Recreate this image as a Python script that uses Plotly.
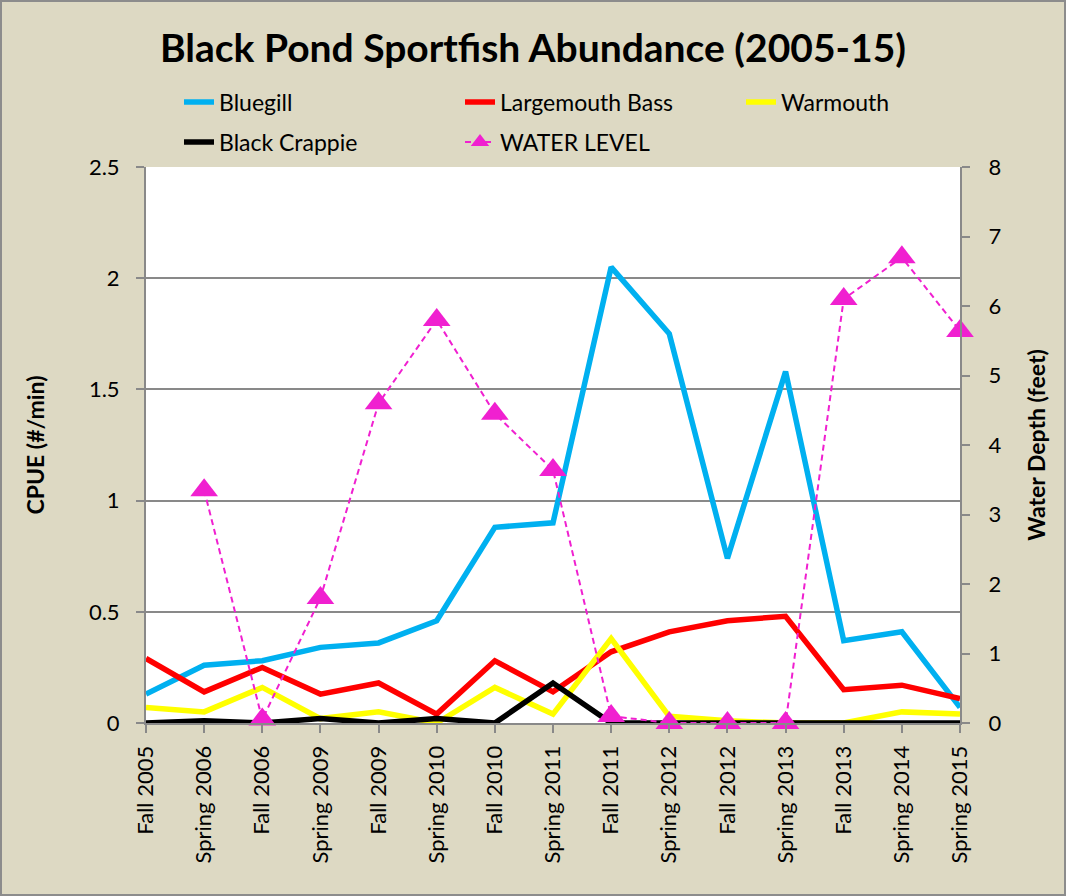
import plotly.graph_objects as go

categories = ["Fall 2005", "Spring 2006", "Fall 2006", "Spring 2009", "Fall 2009",
              "Spring 2010", "Fall 2010", "Spring 2011", "Fall 2011", "Spring 2012",
              "Fall 2012", "Spring 2013", "Fall 2013", "Spring 2014", "Spring 2015"]
bluegill = [0.13, 0.26, 0.28, 0.34, 0.36, 0.46, 0.88, 0.90, 2.05, 1.75, 0.74, 1.58, 0.37, 0.41, 0.07]
largemouth = [0.29, 0.14, 0.25, 0.13, 0.18, 0.04, 0.28, 0.14, 0.32, 0.41, 0.46, 0.48, 0.15, 0.17, 0.11]
warmouth = [0.07, 0.05, 0.16, 0.02, 0.05, 0.00, 0.16, 0.04, 0.38, 0.03, 0.01, 0.00, 0.00, 0.05, 0.04]
crappie = [0.00, 0.01, 0.00, 0.02, 0.00, 0.02, 0.00, 0.18, 0.00, 0.00, 0.00, 0.00, 0.00, 0.00, 0.00]
water_level = [None, 3.35, 0.05, 1.80, 4.60, 5.80, 4.45, 3.64, 0.10, 0.0, 0.0, 0.0, 6.10, 6.70, 5.64]

BG = "#DDD9C3"
GRID = "#898989"
FONT = "Lato"

L, R, T, B = 146, 106, 167, 173
W, H = 1066, 896
pw, ph = W - L - R, H - T - B

def px(p):
    return (p - L) / pw

def py(p):
    return (H - B - p) / ph

fig = go.Figure()
fig.add_trace(go.Scatter(x=categories, y=bluegill, name="Bluegill", mode="lines",
                         line=dict(color="#00B0F0", width=5.5), legend="legend", cliponaxis=False))
fig.add_trace(go.Scatter(x=categories, y=largemouth, name="Largemouth Bass", mode="lines",
                         line=dict(color="#FF0000", width=5.5), legend="legend2", cliponaxis=False))
fig.add_trace(go.Scatter(x=categories, y=warmouth, name="Warmouth", mode="lines",
                         line=dict(color="#FFFF00", width=5.5), legend="legend3", cliponaxis=False))
fig.add_trace(go.Scatter(x=categories, y=crappie, name="Black Crappie", mode="lines",
                         line=dict(color="#000000", width=5.5), legend="legend4", cliponaxis=False))
fig.add_trace(go.Scatter(x=categories, y=water_level, name="WATER LEVEL", mode="lines+markers",
                         yaxis="y2", line=dict(color="#F020D0", width=2, dash="6px,4px"),
                         marker=dict(symbol="triangle-up", size=24, color="#F020D0"),
                         legend="legend5", cliponaxis=False))

def leg(xp, yp):
    return dict(orientation="v", x=px(xp), xanchor="left", y=py(yp), yanchor="middle",
                bgcolor="rgba(0,0,0,0)", font=dict(family=FONT, size=23, color="black"))

fig.update_layout(
    width=W, height=H,
    margin=dict(l=L, r=R, t=T, b=B),
    paper_bgcolor=BG, plot_bgcolor="white",
    font=dict(family=FONT, size=22, color="black"),
    title=dict(text="<b>Black Pond Sportfish Abundance (2005-15)</b>",
               x=0.5, xanchor="center", y=1 - 48 / H, yanchor="middle",
               font=dict(family=FONT, size=39, color="black")),
    showlegend=True,
    legend=leg(179, 102),
    legend2=leg(460, 102),
    legend3=leg(741, 102),
    legend4=leg(179, 142),
    legend5=leg(460, 142),
    xaxis=dict(type="category", range=[0, len(categories) - 1], tickangle=-90,
               ticks="outside", ticklen=8, tickcolor=GRID, tickwidth=2,
               showline=True, linecolor=GRID, linewidth=2, showgrid=False,
               tickfont=dict(size=22), ticklabelstandoff=4),
    yaxis=dict(range=[0, 2.5], dtick=0.5, tick0=0, showgrid=True, gridcolor=GRID, gridwidth=2,
               ticks="outside", ticklen=8, tickcolor=GRID, tickwidth=2,
               showline=True, linecolor=GRID, linewidth=2, zeroline=False,
               tickfont=dict(size=22), ticklabelstandoff=12,
               title=dict(text="<b>CPUE (#/min)</b>", font=dict(size=23), standoff=38)),
    yaxis2=dict(range=[0, 8], dtick=1, overlaying="y", side="right", showgrid=False,
                ticks="outside", ticklen=8, tickcolor=GRID, tickwidth=2,
                showline=True, linecolor=GRID, linewidth=2, zeroline=False,
                tickfont=dict(size=22), ticklabelstandoff=14,
                title=dict(text="<b>Water Depth (feet)</b>", font=dict(size=23), standoff=28)),
)

fig.add_shape(type="rect", xref="paper", yref="paper",
              x0=px(1), x1=px(W - 1), y0=py(H - 1), y1=py(1),
              line=dict(color="#8C8C8C", width=2), fillcolor="rgba(0,0,0,0)", layer="below")

fig.write_html("out.html")
